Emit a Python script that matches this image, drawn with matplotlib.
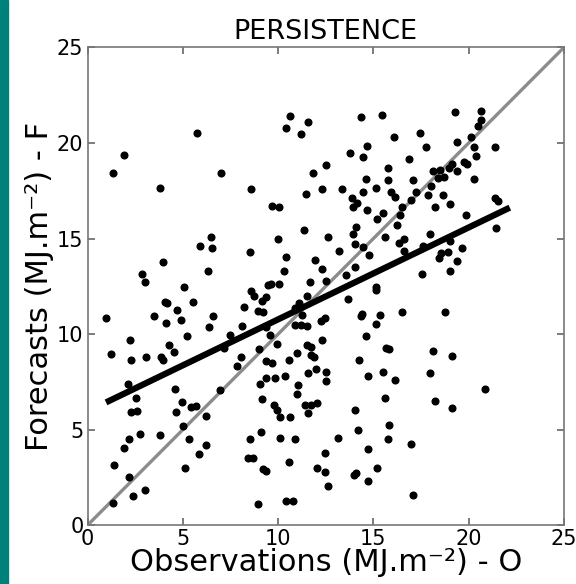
import matplotlib
matplotlib.use("Agg")
import matplotlib.pyplot as plt
import numpy as np
from matplotlib.patches import Rectangle

# observations (O) and forecasts (F)
obs = [5.75, 1.90, 1.32, 7.01, 3.81, 6.47, 5.91, 6.54, 3.95, 2.86, 3.00, 6.31, 5.05,
       10.61, 11.58, 10.42, 11.19, 14.36, 14.66, 13.80, 14.43, 12.52, 11.82, 14.59, 8.60,
       11.44, 12.29, 13.33, 13.87, 14.43, 14.13, 13.94, 14.66, 9.69, 10.04, 11.35, 14.11,
       13.94, 14.03, 14.43, 9.97, 12.61, 8.51, 10.42, 13.19, 11.93, 14.76, 10.30, 12.29,
       14.03, 13.54, 9.48, 9.65, 10.04, 11.66, 12.52,
       15.44, 19.31, 20.66, 20.66, 20.50, 20.10, 16.07, 17.44, 17.74, 19.40, 20.26, 21.36,
       20.41, 16.86, 15.78, 15.78, 15.13, 15.92, 16.14, 17.09, 18.12, 18.50, 18.98, 19.15,
       19.78, 19.89, 19.40, 18.73, 18.40, 18.03, 17.26, 17.89, 18.68, 20.26, 19.00, 18.21,
       16.95, 16.49, 15.53, 15.18, 16.40, 16.25, 19.87, 21.36, 21.53, 21.44, 15.60, 16.62,
       16.32, 16.62, 17.98, 19.00, 17.63, 19.63, 18.92, 18.54, 18.44, 19.40, 19.00, 17.56,
       15.13,
       0.96, 3.48, 4.04, 4.17, 5.52, 4.72, 4.88, 4.10, 6.61, 6.40, 5.21, 2.22, 1.25, 2.27,
       3.07, 3.86, 3.95, 4.25, 4.56, 2.11, 2.53, 2.27, 2.62, 4.59, 4.98, 4.65, 5.45, 5.70,
       6.24, 2.74, 2.15, 1.92, 3.81, 5.30, 6.24, 5.84, 1.41, 5.12, 2.20, 3.00, 2.39, 1.32,
       5.00, 6.94,
       8.60, 8.74, 9.39, 9.13, 8.20, 8.92, 9.21, 11.09, 11.54, 10.88, 11.23, 13.66, 14.41,
       14.36, 14.59, 12.47, 12.23, 8.13, 10.88, 11.19, 11.52, 9.39, 9.60, 7.50, 7.15, 9.93,
       8.99, 11.52, 11.73, 12.29, 10.97, 11.73, 11.86, 8.04, 7.82, 9.39, 9.69, 10.56, 14.27,
       14.71, 9.39, 9.86, 10.34, 9.06, 11.58, 12.00, 12.52, 12.52, 11.03, 10.98, 9.13, 9.77,
       9.95, 10.09, 10.63, 11.39, 11.73, 12.05, 11.58, 14.03, 14.18, 9.08, 8.50, 10.09,
       10.88, 13.17, 8.43, 8.67, 10.56, 12.47, 9.21, 9.34, 12.05, 12.47, 14.09, 14.00,
       12.63, 8.92, 10.40, 10.78, 14.74, 14.74,
       15.13, 15.36, 16.48, 18.75, 15.13, 15.67, 15.84, 18.12, 19.15, 15.53, 16.14, 17.98,
       20.87, 15.60, 18.21, 19.15, 15.84, 15.76, 16.97, 15.18, 17.09]
fcst = [20.54, 19.39, 18.43, 18.43, 17.65, 15.06, 14.59, 14.52, 13.76, 13.16, 12.71, 13.28, 12.45,
        21.43, 21.12, 20.78, 20.49, 21.34, 19.86, 19.46, 19.25, 18.83, 18.43, 18.13, 17.59,
        17.35, 17.59, 17.59, 17.14, 17.42, 16.88, 16.65, 16.48, 16.72, 16.65, 15.46, 15.62,
        15.24, 14.70, 14.57, 14.99, 15.06, 14.30, 14.05, 14.36, 13.89, 14.14, 13.28, 13.41,
        13.51, 13.11, 12.59, 12.64, 12.62, 12.73, 12.76,
        21.48, 21.61, 21.67, 21.20, 20.87, 20.31, 20.31, 20.54, 19.77, 20.07, 19.77, 19.77,
        19.30, 19.15, 18.68, 18.06, 17.66, 17.42, 17.17, 18.05, 18.53, 18.58, 18.68, 18.88,
        19.02, 18.88, 18.53, 18.22, 18.17, 17.73, 17.42, 17.26, 17.26, 18.13, 16.81, 16.65,
        17.00, 16.64, 16.34, 16.00, 16.25, 15.71, 16.25, 17.12, 16.95, 15.54, 15.06, 14.99,
        14.75, 14.36, 15.24, 14.86, 14.61, 14.52, 14.30, 14.24, 13.98, 13.83, 13.30, 13.16,
        12.45,
        10.86, 10.93, 11.70, 11.63, 11.70, 11.24, 10.75, 10.60, 10.93, 10.37, 9.88, 9.67, 8.98, 8.63,
        8.80, 8.80, 8.63, 9.43, 9.08, 7.39, 6.67, 5.91, 5.98, 7.14, 6.45, 5.91, 6.17, 6.25,
        5.73, 4.79, 4.49, 4.02, 4.72, 4.49, 4.18, 3.71, 3.15, 3.01, 2.51, 1.84, 1.53, 1.16,
        5.20, 7.07,
        12.27, 11.98, 11.93, 11.71, 11.40, 11.23, 11.16, 11.63, 11.98, 11.35, 11.02, 11.84, 11.07,
        10.93, 9.88, 10.84, 10.70, 10.44, 10.46, 10.50, 10.44, 10.36, 9.97, 9.97, 9.27, 9.50,
        9.22, 9.45, 9.33, 9.67, 9.03, 8.91, 8.82, 8.80, 8.33, 8.58, 8.49, 8.63, 8.63,
        7.79, 7.72, 7.72, 7.81, 7.39, 7.95, 8.16, 8.03, 7.56, 7.34, 6.87, 6.60, 6.27,
        6.04, 5.68, 5.68, 6.31, 6.31, 6.39, 5.86, 6.04, 4.97, 4.89, 4.49, 4.56,
        4.49, 4.56, 3.53, 3.53, 3.31, 3.78, 2.92, 2.84, 3.01, 2.78, 2.75, 2.61,
        2.07, 1.11, 1.27, 1.27, 3.99, 2.33,
        12.32, 10.98, 11.16, 11.16, 10.51, 9.29, 9.20, 9.10, 8.85, 8.03, 7.61, 7.95,
        7.14, 6.67, 6.52, 6.15, 5.26, 4.49, 4.25, 3.01, 1.60]

# linear fit drawn in the reference (slope, intercept, x range)
fit_slope = 0.481
fit_intercept = 5.96
fit_range = [0.97, 22.16]

ticks = [0, 5, 10, 15, 20, 25]

fig = plt.figure(figsize=(5.76, 5.84), dpi=100)
ax = fig.add_axes([0.152, 0.1007, 0.827, 0.818])

# 1:1 line
ax.plot([0, 25], [0, 25], color="#8c8c8c", lw=2.4, zorder=2)
ax.plot(obs, fcst, "o", color="black", ms=4.8, zorder=3)
fx = np.array(fit_range)
ax.plot(fx, fit_slope * fx + fit_intercept, color="black", lw=4.5,
        solid_capstyle="butt", zorder=4)

ax.set_xlim(0, 25)
ax.set_ylim(0, 25)
ax.set_xticks(ticks)
ax.set_yticks(ticks)
ax.tick_params(direction="in", top=True, right=True, length=5, width=1.2,
               color="#666666", labelsize=15, pad=3)
for s in ax.spines.values():
    s.set_color("#777777")
    s.set_linewidth(1.2)

ax.set_title("PERSISTENCE", fontsize=19.5, pad=6)
ax.set_xlabel("Observations (MJ.m⁻²) - O", fontsize=22, labelpad=-1)
ax.set_ylabel("Forecasts (MJ.m⁻²) - F", fontsize=22, labelpad=2)

# teal strip at the left edge
fig.patches.append(Rectangle((0, 0), 8 / 576, 1, transform=fig.transFigure,
                             color="#00807a", zorder=0))

fig.savefig("out.png", dpi=100)
